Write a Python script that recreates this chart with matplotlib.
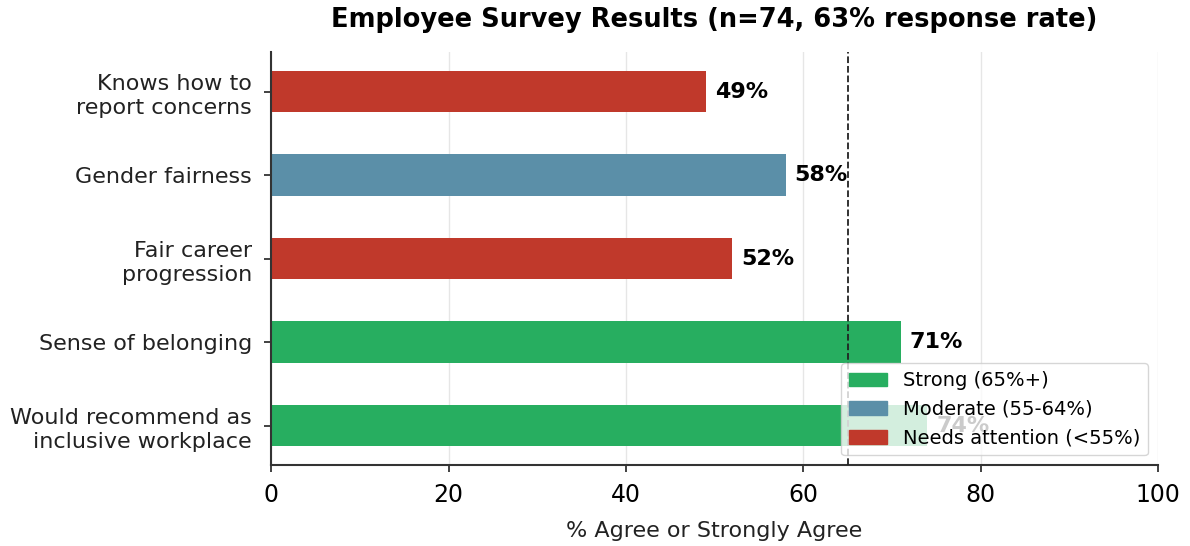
import matplotlib
matplotlib.use("Agg")
import matplotlib.pyplot as plt
from matplotlib.patches import Patch

categories = ["Would recommend as\ninclusive workplace", "Sense of belonging",
              "Fair career\nprogression", "Gender fairness", "Knows how to\nreport concerns"]
values = [74, 71, 52, 58, 49]
colors_map = {"strong": "#27ae60", "moderate": "#5b8fa8", "attention": "#c0392b"}
threshold = 65

def pick(v):
    if v >= 65:
        return colors_map["strong"]
    if v >= 55:
        return colors_map["moderate"]
    return colors_map["attention"]

fig, ax = plt.subplots(figsize=(11.9, 5.46), dpi=100)
fig.subplots_adjust(left=0.228, right=0.973, top=0.905, bottom=0.148)
ypos = range(len(categories))
ax.barh(list(ypos), values, height=0.5, color=[pick(v) for v in values], zorder=2)
for y, v in zip(ypos, values):
    ax.text(v + 1, y, f"{v}%", va="center", ha="left", fontsize=16, fontweight="bold", zorder=3)
ax.axvline(threshold, color="#222222", linestyle="--", linewidth=1.3, zorder=3)
ax.set_yticks(list(ypos))
ax.set_yticklabels(categories, fontsize=16, color="#222222", linespacing=1.3)
ax.set_xlim(0, 100)
ax.tick_params(axis="x", labelsize=17, pad=8)
ax.tick_params(axis="y", pad=9)
ax.tick_params(axis="both", length=5, width=1.3, color="#333333")
ax.set_xlabel("% Agree or Strongly Agree", fontsize=16, color="#222222", labelpad=10)
ax.set_title("Employee Survey Results (n=74, 63% response rate)", fontsize=18.5, fontweight="bold", pad=18)
ax.grid(axis="x", color="#e6e6e6", linewidth=1, zorder=0)
ax.set_axisbelow(True)
for s in ["top", "right"]:
    ax.spines[s].set_visible(False)
for s in ["left", "bottom"]:
    ax.spines[s].set_linewidth(1.5)
    ax.spines[s].set_color("#333333")
handles = [Patch(color=colors_map["strong"], label="Strong (65%+)"),
           Patch(color=colors_map["moderate"], label="Moderate (55-64%)"),
           Patch(color=colors_map["attention"], label="Needs attention (<55%)")]
leg = ax.legend(handles=handles, loc="lower right", fontsize=14, framealpha=0.8)
leg.set_zorder(5)
fig.savefig("out.png", dpi=100)
